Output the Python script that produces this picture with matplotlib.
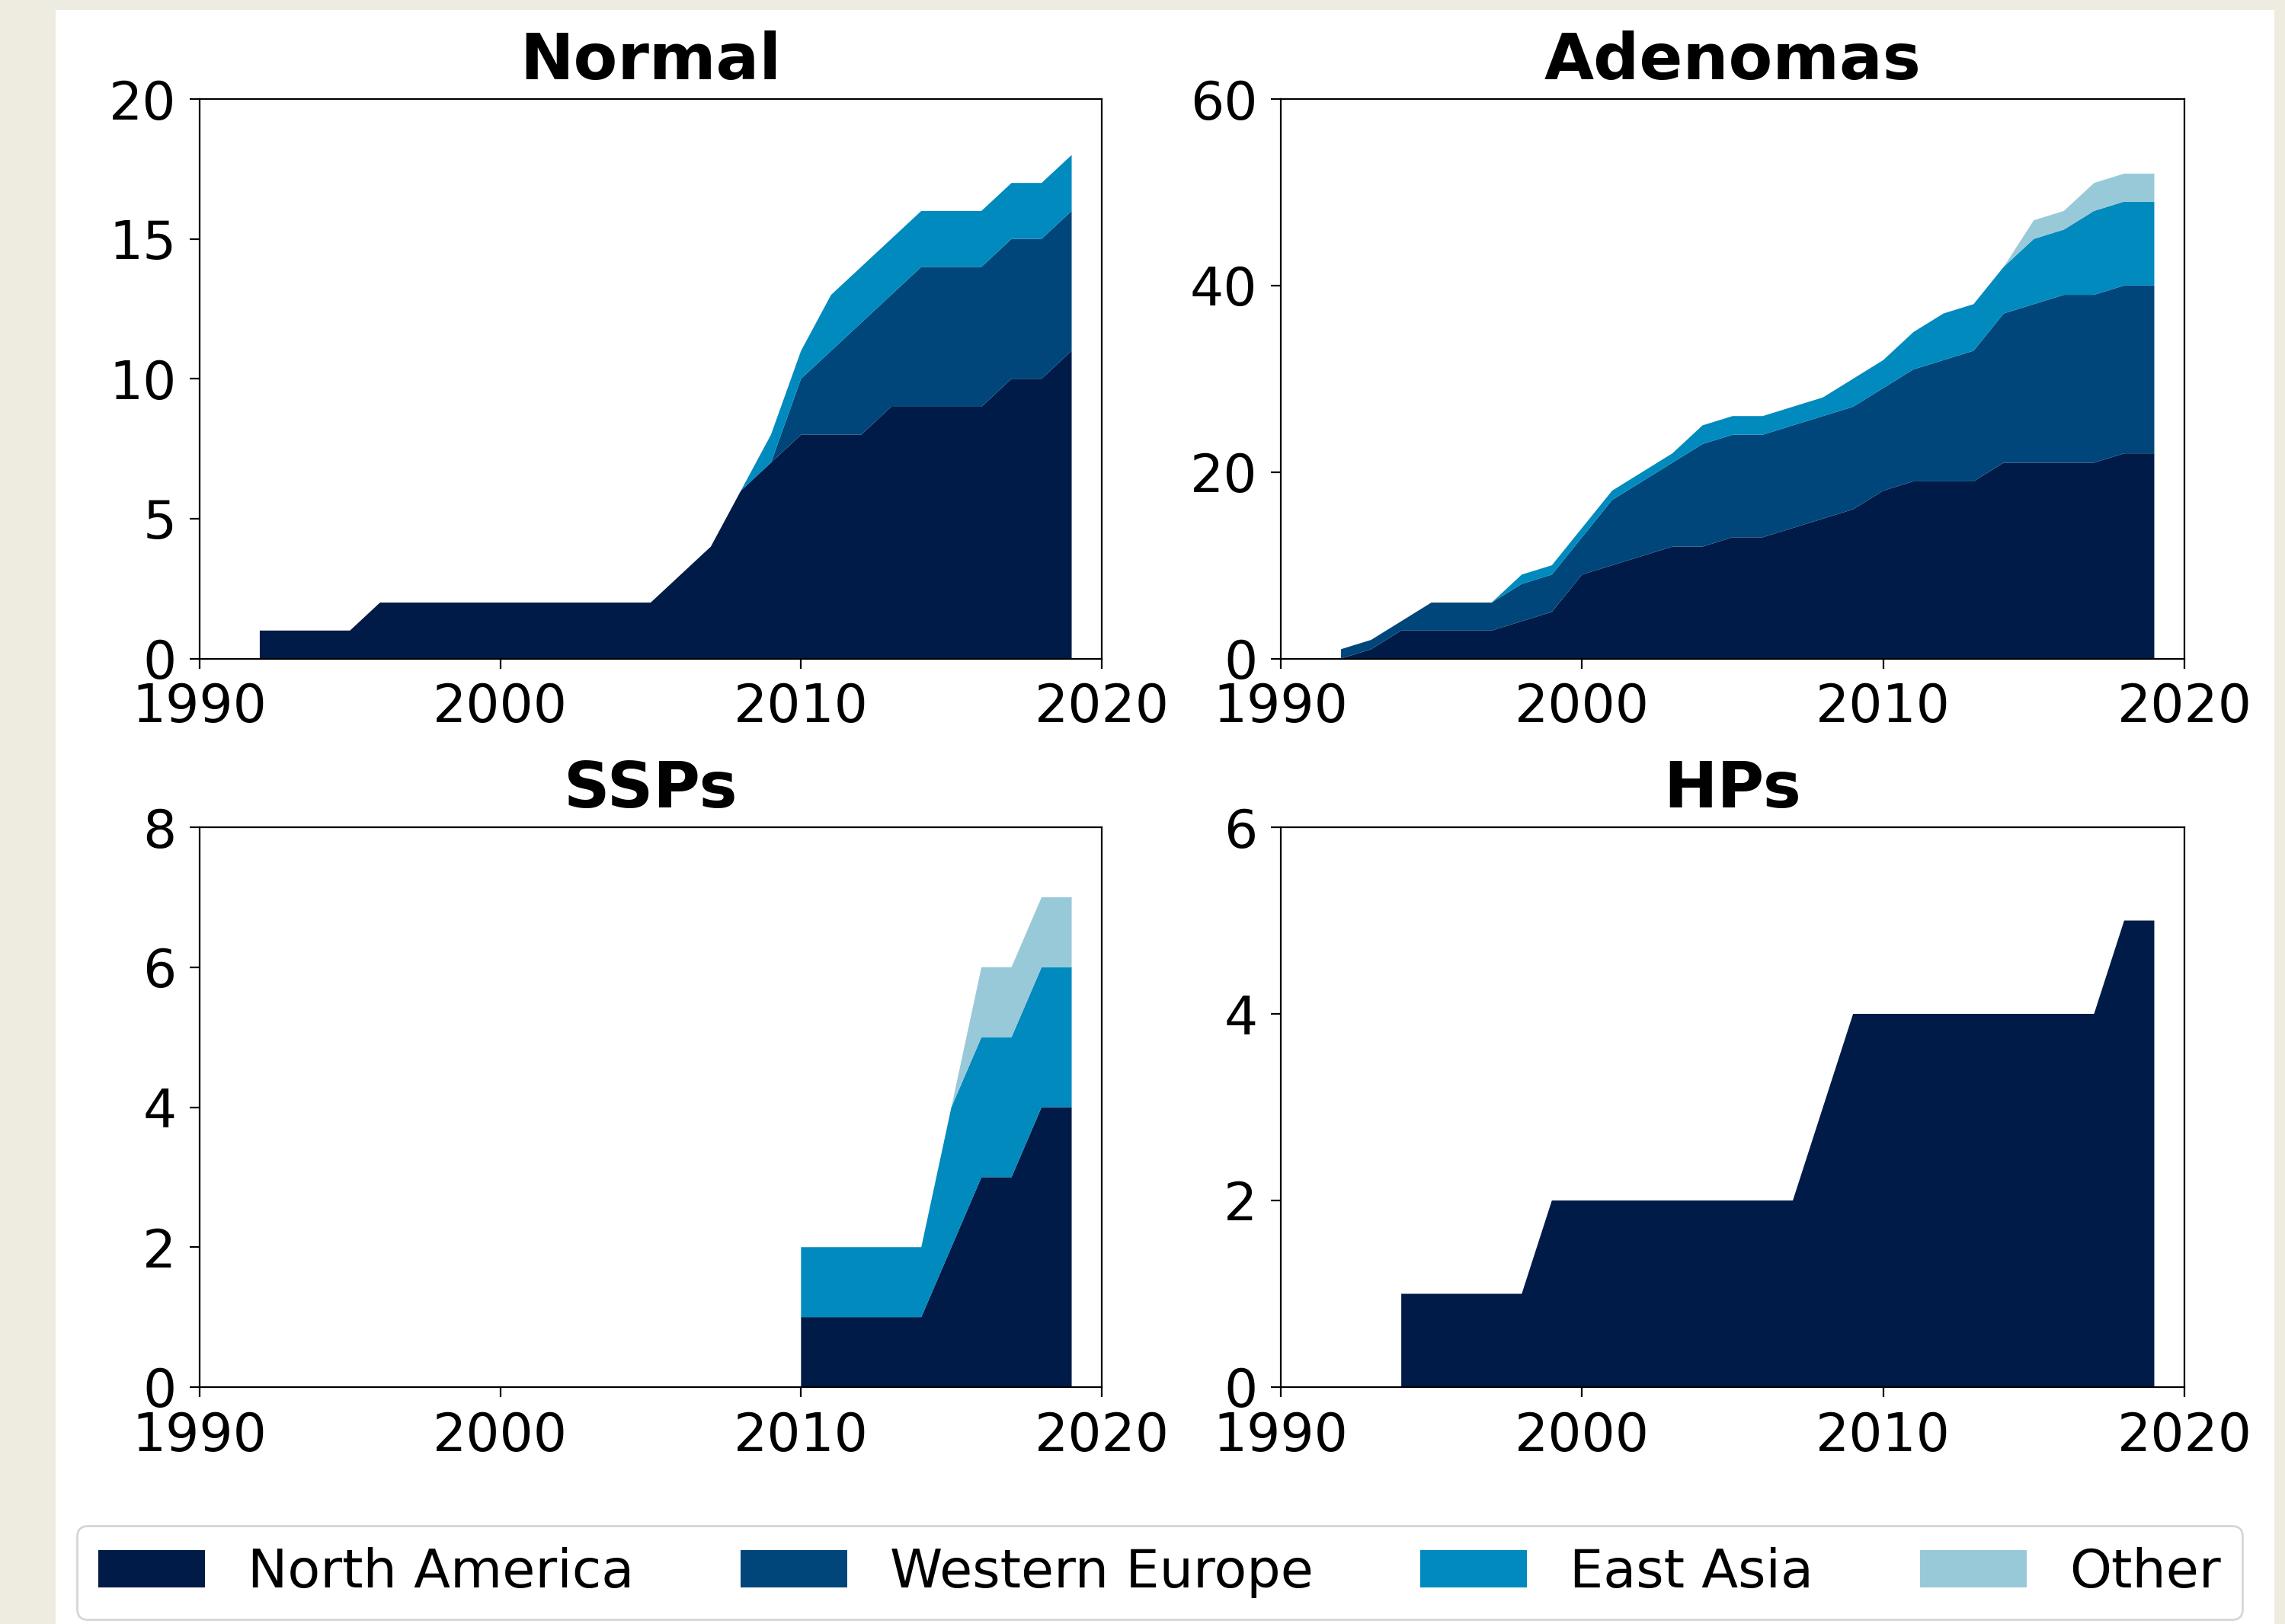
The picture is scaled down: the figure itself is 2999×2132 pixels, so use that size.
import matplotlib
matplotlib.use("Agg")
import matplotlib.pyplot as plt
from matplotlib.patches import Rectangle, Patch
import numpy as np

# ---------------- data ----------------
regions = ["North America", "Western Europe", "East Asia", "Other"]
colors = ["#001b47", "#01467a", "#008abe", "#98c9d9"]

normal_years = list(range(1992, 2020))
normal_na = [1, 1, 1, 1, 2, 2, 2, 2, 2, 2, 2, 2, 2, 2, 3, 4, 6, 7, 8, 8, 8, 9, 9, 9, 9, 10, 10, 11]
normal_we = [0, 0, 0, 0, 0, 0, 0, 0, 0, 0, 0, 0, 0, 0, 0, 0, 0, 0, 2, 3, 4, 4, 5, 5, 5, 5, 5, 5]
normal_ea = [0, 0, 0, 0, 0, 0, 0, 0, 0, 0, 0, 0, 0, 0, 0, 0, 0, 1, 1, 2, 2, 2, 2, 2, 2, 2, 2, 2]
normal_ot = [0] * 28

aden_years = list(range(1992, 2020))
aden_na = [0, 1, 3, 3, 3, 3, 4, 5, 9, 10, 11, 12, 12, 13, 13, 14, 15, 16, 18, 19, 19, 19, 21, 21, 21, 21, 22, 22]
aden_we = [1, 1, 1, 3, 3, 3, 4, 4, 4, 7, 8, 9, 11, 11, 11, 11, 11, 11, 11, 12, 13, 14, 16, 17, 18, 18, 18, 18]
aden_ea = [0, 0, 0, 0, 0, 0, 1, 1, 1, 1, 1, 1, 2, 2, 2, 2, 2, 3, 3, 4, 5, 5, 5, 7, 7, 9, 9, 9]
aden_ot = [0, 0, 0, 0, 0, 0, 0, 0, 0, 0, 0, 0, 0, 0, 0, 0, 0, 0, 0, 0, 0, 0, 0, 2, 2, 3, 3, 3]

ssp_years = list(range(2010, 2020))
ssp_na = [1, 1, 1, 1, 1, 2, 3, 3, 4, 4]
ssp_we = [0, 0, 0, 0, 0, 0, 0, 0, 0, 0]
ssp_ea = [1, 1, 1, 1, 1, 2, 2, 2, 2, 2]
ssp_ot = [0, 0, 0, 0, 0, 0, 1, 1, 1, 1]

hp_years = list(range(1994, 2020))
hp_na = [1, 1, 1, 1, 1, 2, 2, 2, 2, 2, 2, 2, 2, 2, 3, 4, 4, 4, 4, 4, 4, 4, 4, 4, 5, 5]
hp_we = [0] * 26
hp_ea = [0] * 26
hp_ot = [0] * 26

titles = ["Normal", "Adenomas", "SSPs", "HPs"]
yticks_list = [[0, 5, 10, 15, 20], [0, 20, 40, 60], [0, 2, 4, 6, 8], [0, 2, 4, 6]]
xticks = [1990, 2000, 2010, 2020]

panels = [
    (normal_years, [normal_na, normal_we, normal_ea, normal_ot]),
    (aden_years, [aden_na, aden_we, aden_ea, aden_ot]),
    (ssp_years, [ssp_na, ssp_we, ssp_ea, ssp_ot]),
    (hp_years, [hp_na, hp_we, hp_ea, hp_ot]),
]

# ---------------- figure ----------------
W, H = 2999, 2132
DPI = 200
fig = plt.figure(figsize=(W / DPI, H / DPI), dpi=DPI, facecolor="#eeebe0")
fig.add_artist(Rectangle((73 / W, 0), (2985 - 73) / W, (H - 13) / H,
                         transform=fig.transFigure, facecolor="white",
                         edgecolor="none", zorder=-10))

FS = 25
lefts = [262, 1681]
rights = [1446, 2867]
tops = [130, 1086]
bottoms = [864.5, 1821]

for i, (years, series) in enumerate(panels):
    r, c = divmod(i, 2)
    x0, x1 = lefts[c], rights[c]
    yt, yb = tops[r], bottoms[r]
    ax = fig.add_axes([x0 / W, 1 - yb / H, (x1 - x0) / W, (yb - yt) / H])
    ax.stackplot(years, *series, colors=colors, labels=regions, linewidth=0)
    ax.set_xlim(1990, 2020)
    ax.set_ylim(yticks_list[i][0], yticks_list[i][-1])
    ax.set_xticks(xticks)
    ax.set_yticks(yticks_list[i])
    ax.tick_params(labelsize=FS, length=4.7, width=0.8, pad=6.3)
    ax.set_title(titles[i], fontsize=30.3, fontweight="bold", pad=9.5)
    for s in ax.spines.values():
        s.set_linewidth(0.8)

handles = [Patch(facecolor=col, edgecolor="none", label=lab) for col, lab in zip(colors, regions)]
fig.legend(handles=handles, loc="lower center", bbox_to_anchor=(0.5074, 0.003),
           ncol=4, fontsize=25.2, borderaxespad=0, frameon=True)

fig.savefig("out.png", dpi=DPI, facecolor=fig.get_facecolor())
